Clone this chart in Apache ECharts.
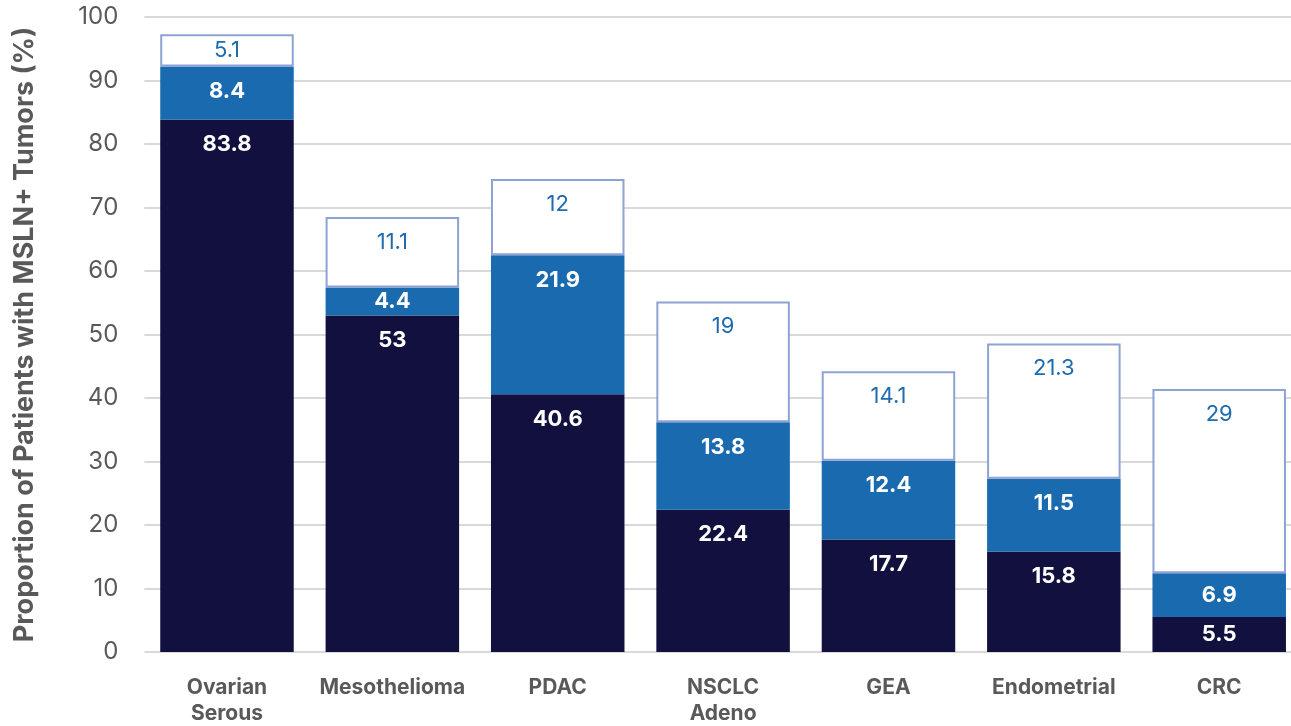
<!DOCTYPE html>
<html>
<head>
<meta charset="utf-8">
<script src="https://cdn.jsdelivr.net/npm/echarts@6/dist/echarts.min.js"></script>
<style>
  html, body { margin: 0; padding: 0; background: #fff; }
  #chart { width: 1291px; height: 726px; }
</style>
</head>
<body>
<div id="chart"></div>
<script>
const categories = ['Ovarian\nSerous', 'Mesothelioma', 'PDAC', 'NSCLC\nAdeno', 'GEA', 'Endometrial', 'CRC'];
const darkValues = [83.8, 53, 40.6, 22.4, 17.7, 15.8, 5.5];
const midValues = [8.4, 4.4, 21.9, 13.8, 12.4, 11.5, 6.9];
const lightValues = [5.1, 11.1, 12, 19, 14.1, 21.3, 29];
const yTicks = [0, 10, 20, 30, 40, 50, 60, 70, 80, 90, 100];

const FONT = 'Inter';
const PX_PER_UNIT = 635 / 100;

// Short segments get their label centred; taller ones near the top edge.
function withLabels(values) {
  return values.map(v => ({
    value: v,
    label: { position: v * PX_PER_UNIT < 50 ? 'inside' : 'insideTop' }
  }));
}

const chart = echarts.init(document.getElementById('chart'), null, { renderer: 'canvas' });

const boldLabel = {
  show: true,
  color: '#ffffff',
  fontFamily: FONT,
  fontWeight: 'bold',
  fontSize: 22,
  distance: 14
};

chart.setOption({
  animation: false,
  grid: {
    left: 144.3, top: 17, width: 1157.6, height: 635,
    containLabel: false,
    outerBoundsMode: 'none'
  },
  xAxis: {
    type: 'category',
    data: categories,
    axisLine: { show: false },
    axisTick: { show: false },
    axisLabel: {
      color: '#595959',
      fontFamily: FONT,
      fontWeight: 'bold',
      fontSize: 21,
      lineHeight: 26,
      margin: 23,
      interval: 0
    }
  },
  yAxis: {
    type: 'value',
    min: yTicks[0],
    max: yTicks[yTicks.length - 1],
    interval: 10,
    name: 'Proportion of Patients with MSLN+ Tumors (%)',
    nameLocation: 'middle',
    nameGap: 106,
    nameTextStyle: {
      color: '#595959',
      fontFamily: FONT,
      fontWeight: 'bold',
      fontSize: 27
    },
    axisLine: { show: false },
    axisTick: { show: false },
    axisLabel: {
      color: '#595959',
      fontFamily: FONT,
      fontSize: 24,
      margin: 26
    },
    splitLine: { lineStyle: { color: '#D9D9D9', width: 2 } }
  },
  series: [
    {
      type: 'bar',
      stack: 'total',
      barWidth: 133.5,
      data: withLabels(darkValues),
      itemStyle: { color: '#12103F' },
      label: boldLabel
    },
    {
      type: 'bar',
      stack: 'total',
      barWidth: 133.5,
      data: withLabels(midValues),
      itemStyle: { color: '#1A6AAF' },
      label: boldLabel
    },
    {
      type: 'bar',
      stack: 'total',
      barWidth: 133.5,
      data: withLabels(lightValues),
      itemStyle: { color: '#ffffff', borderColor: '#8EA2D4', borderWidth: 2 },
      label: {
        show: true,
        color: '#1F6BB0',
        fontFamily: FONT,
        fontSize: 22,
        distance: 14
      }
    }
  ]
});
</script>
</body>
</html>
